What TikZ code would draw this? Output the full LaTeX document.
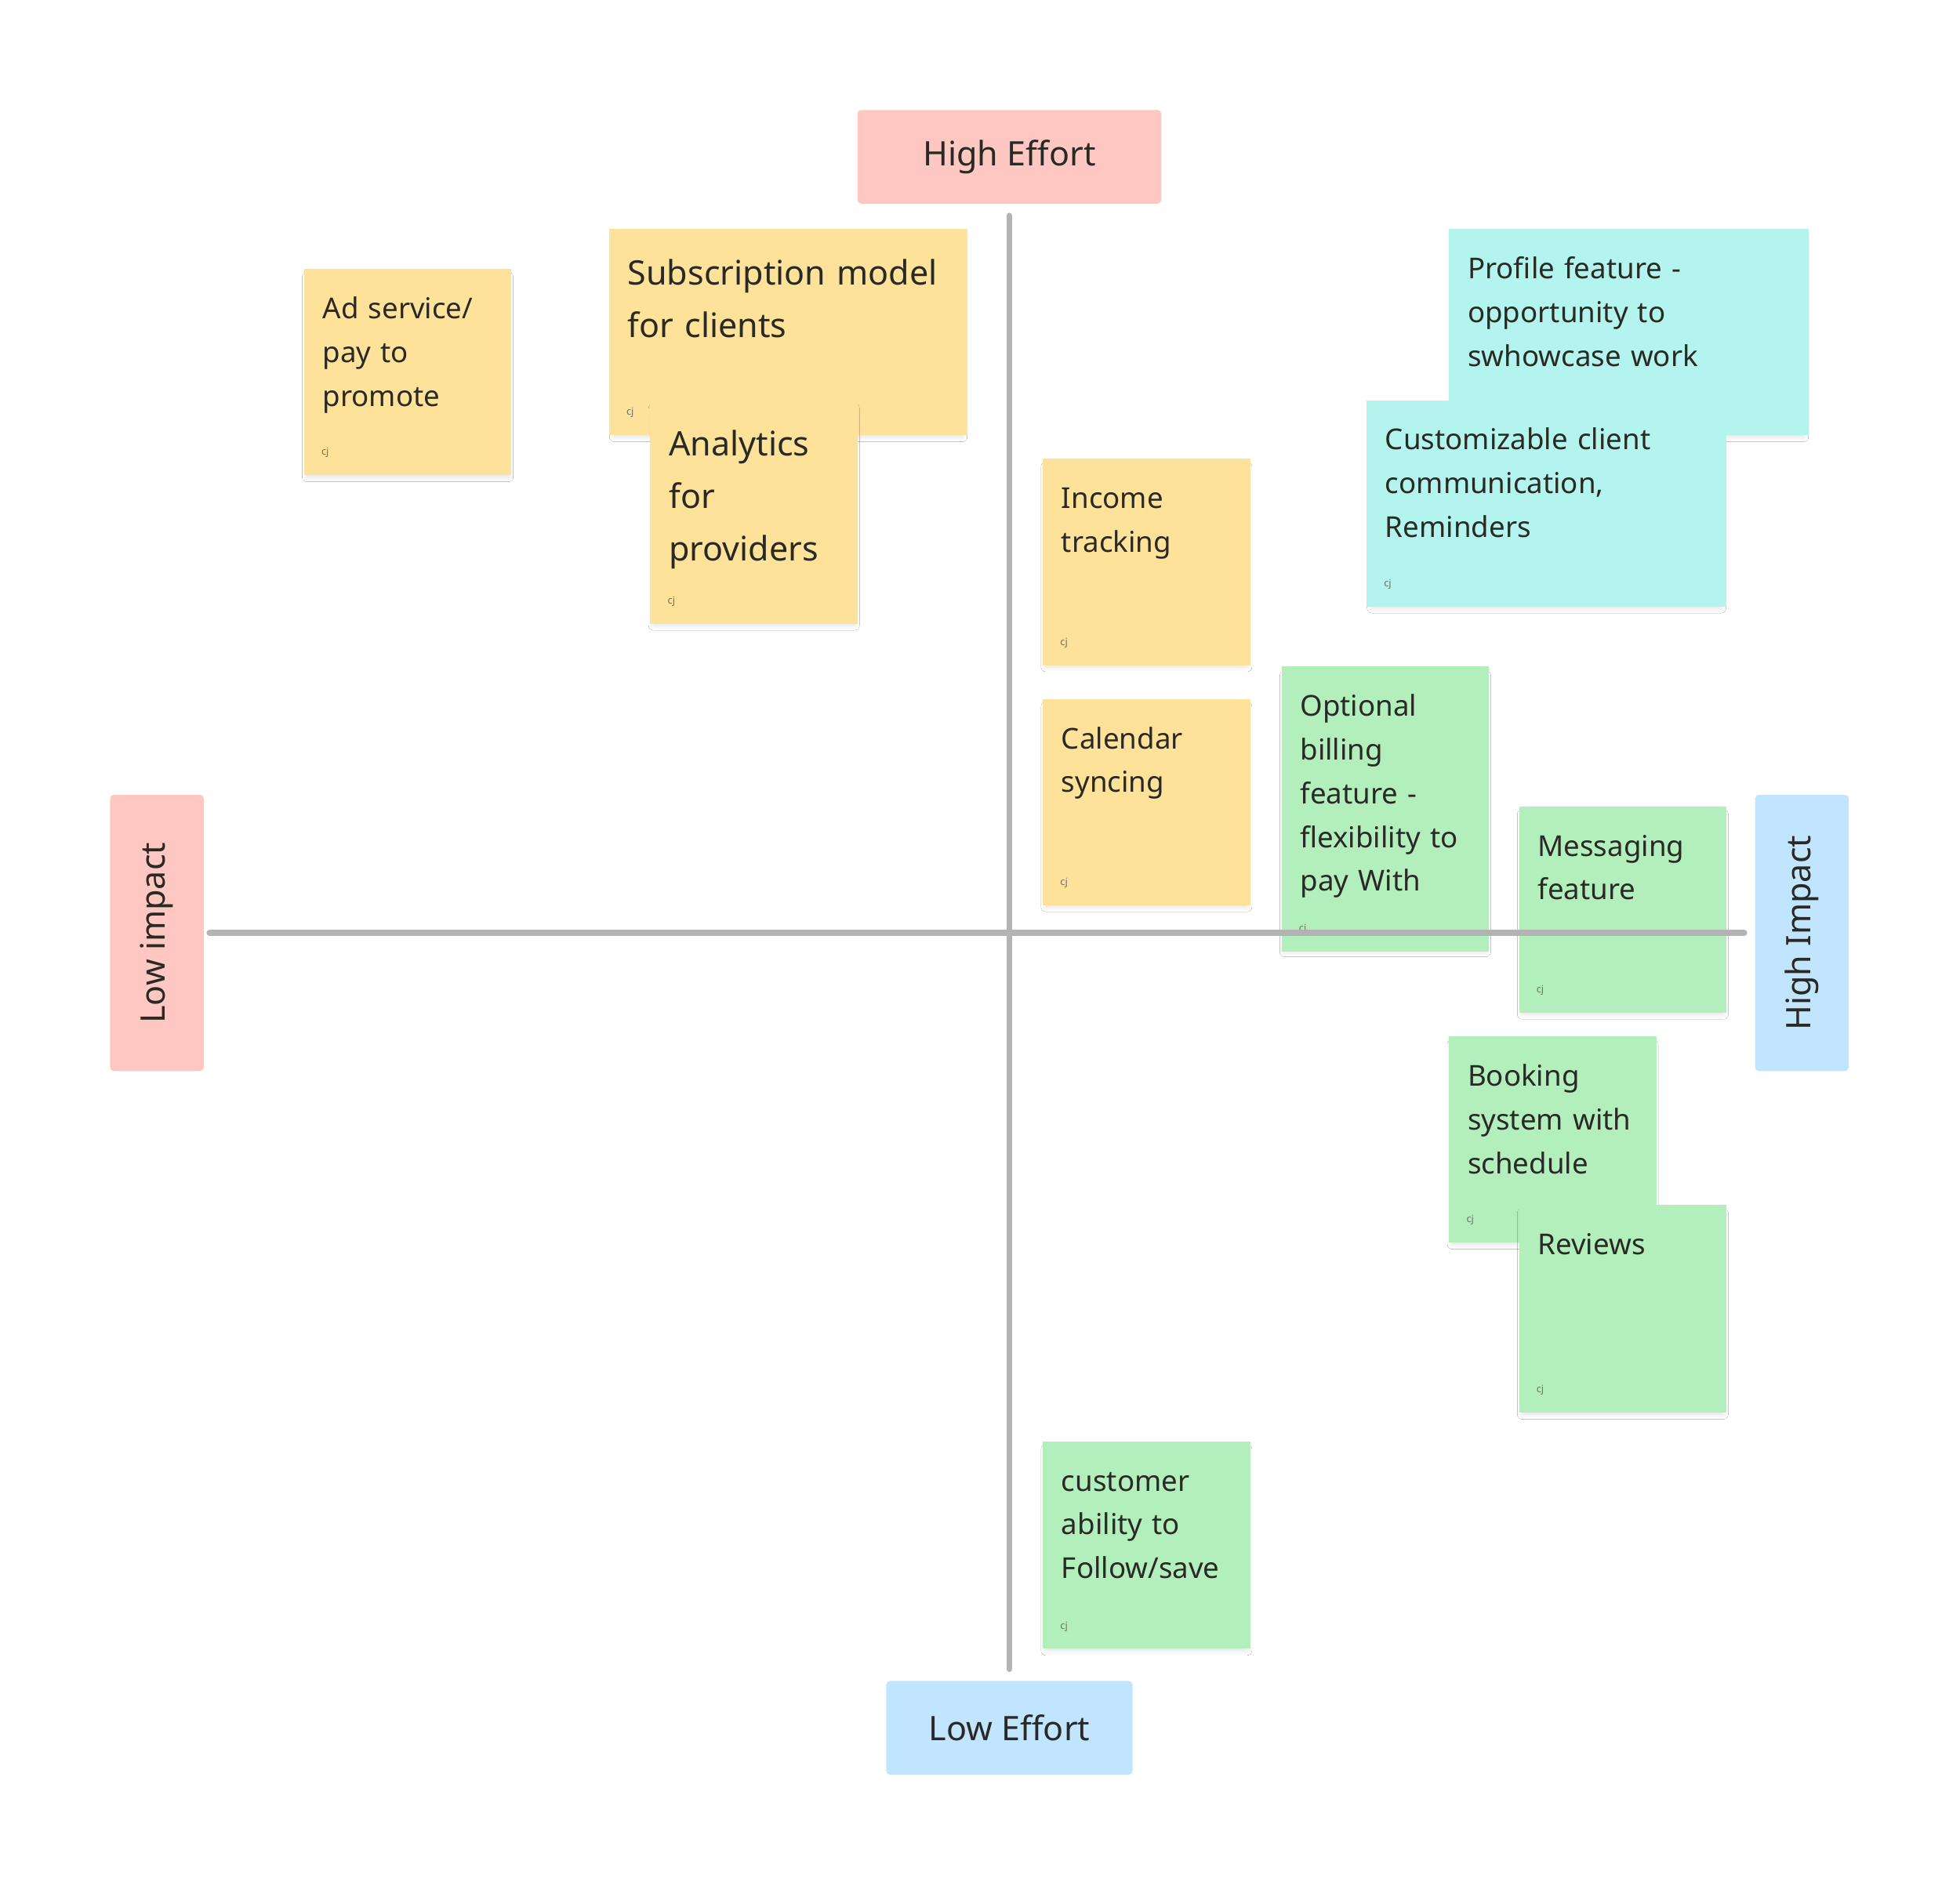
\documentclass[tikz,border=0pt]{standalone}
\usepackage{fontspec}
\setmainfont{Noto Sans}
\usetikzlibrary{shadows.blur}
\definecolor{yel}{HTML}{FFE29A}
\definecolor{grn}{HTML}{B3EFBD}
\definecolor{teal}{HTML}{B3F4EF}
\definecolor{pnk}{HTML}{FFC7C2}
\definecolor{blu}{HTML}{C2E5FF}
\definecolor{axisgray}{HTML}{B3B3B3}
\definecolor{ink}{HTML}{2A2A24}
\definecolor{cjgray}{HTML}{707060}
\tikzset{
  x=1pt, y=-1pt,
  sticky/.style={rectangle, draw=none, inner sep=0pt, anchor=north west,
    blur shadow={shadow xshift=0pt, shadow yshift=-4pt, shadow scale=0.97, shadow blur radius=4pt, shadow opacity=12}},
  smallsticky/.style={sticky, minimum width=166pt, minimum height=165pt},
  bigsticky/.style={sticky, minimum width=288pt, minimum height=165pt},
  stxt/.style={anchor=base west, inner sep=0pt, align=left, text width=#1, text=ink,
    font=\fontsize{23}{35}\selectfont},
  btxt/.style={anchor=base west, inner sep=0pt, align=left, text width=#1, text=ink,
    font=\fontsize{27}{42}\selectfont},
  cjtxt/.style={anchor=base west, inner sep=0pt, text=cjgray, font=\fontsize{8}{9}\selectfont},
  axlabel/.style={rectangle, rounded corners=3pt, draw=none, inner sep=0pt, text=ink,
    font=\fontsize{27}{32}\selectfont},
  axisline/.style={draw=axisgray, line width=5pt, line cap=round},
}
\begin{document}
\begin{tikzpicture}
\useasboundingbox[fill=white] (0,0) rectangle (1568,1509);

% axis labels
\node[axlabel, fill=pnk, minimum width=243pt, minimum height=75pt] (he) at (807.5,125.5) {\raisebox{-2pt}{High Effort}};
\node[axlabel, fill=blu, minimum width=197pt, minimum height=75pt] (lo) at (807.5,1382.5) {Low Effort};
\node[axlabel, fill=pnk, minimum width=221pt, minimum height=75pt, rotate=90] (li) at (125.5,746.5) {Low impact};
\node[axlabel, fill=blu, minimum width=221pt, minimum height=75pt, rotate=90] (hi) at (1441.5,746.5) {\raisebox{-2pt}{High Impact}};

% yellow stickies
\node[smallsticky, fill=yel] (ad) at (243,215) {};
\node[stxt=145pt] at ([shift={(15,40)}]ad.north west) {Ad service/\\pay to\\promote};
\node[cjtxt] at ([shift={(14,-16)}]ad.south west) {cj};

\node[sticky, fill=yel, minimum width=287pt, minimum height=165pt] (sub) at (487,183) {};
\node[btxt=265pt] at ([shift={(15,45)}]sub.north west) {Subscription model\\for clients};
\node[cjtxt] at ([shift={(14,-16)}]sub.south west) {cj};

\node[sticky, fill=yel, minimum width=166pt, minimum height=179pt] (ana) at (520,320) {};
\node[btxt=145pt] at ([shift={(15,45)}]ana.north west) {Analytics\\for\\providers};
\node[cjtxt] at ([shift={(14,-16)}]ana.south west) {cj};

\node[smallsticky, fill=yel] (inc) at (834,367) {};
\node[stxt=145pt] at ([shift={(15,40)}]inc.north west) {Income\\tracking};
\node[cjtxt] at ([shift={(14,-16)}]inc.south west) {cj};

\node[smallsticky, fill=yel] (cal) at (834,559) {};
\node[stxt=145pt] at ([shift={(15,40)}]cal.north west) {Calendar\\syncing};
\node[cjtxt] at ([shift={(14,-16)}]cal.south west) {cj};

% teal stickies
\node[bigsticky, fill=teal] (pro) at (1159,183) {};
\node[stxt=265pt] at ([shift={(15,40)}]pro.north west) {Profile feature -\\opportunity to\\swhowcase work};

\node[bigsticky, fill=teal] (cus) at (1093,320) {};
\node[stxt=265pt] at ([shift={(15,40)}]cus.north west) {Customizable client\\communication,\\Reminders};
\node[cjtxt] at ([shift={(14,-16)}]cus.south west) {cj};

% green stickies
\node[sticky, fill=grn, minimum width=166pt, minimum height=228pt] (opt) at (1025,533) {};
\node[stxt=145pt] at ([shift={(15,40)}]opt.north west) {Optional\\billing\\feature -\\flexibility to\\pay With};
\node[cjtxt] at ([shift={(14,-16)}]opt.south west) {cj};

\node[smallsticky, fill=grn] (msg) at (1215,645) {};
\node[stxt=145pt] at ([shift={(15,40)}]msg.north west) {Messaging\\feature};
\node[cjtxt] at ([shift={(14,-16)}]msg.south west) {cj};

\node[smallsticky, fill=grn] (boo) at (1159,829) {};
\node[stxt=145pt] at ([shift={(15,40)}]boo.north west) {Booking\\system with\\schedule};
\node[cjtxt] at ([shift={(14,-16)}]boo.south west) {cj};

\node[sticky, fill=grn, minimum width=166pt, minimum height=166pt] (rev) at (1215,964) {};
\node[stxt=145pt] at ([shift={(15,40)}]rev.north west) {Reviews};
\node[cjtxt] at ([shift={(14,-16)}]rev.south west) {cj};

\node[sticky, fill=grn, minimum width=166pt, minimum height=166pt] (fol) at (834,1153) {};
\node[stxt=145pt] at ([shift={(15,40)}]fol.north west) {customer\\ability to\\Follow/save};
\node[cjtxt] at ([shift={(14,-16)}]fol.south west) {cj};

% axes
\draw[axisline, shorten <=9.5pt, shorten >=9.5pt] (he) -- (lo);
\draw[axisline, shorten <=4.5pt, shorten >=8.5pt] (li) -- (hi);
\end{tikzpicture}
\end{document}
